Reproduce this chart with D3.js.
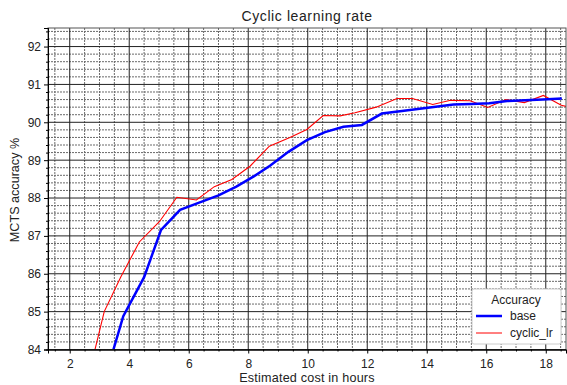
<!DOCTYPE html>
<html>
<head>
<meta charset="utf-8">
<script src="https://cdn.jsdelivr.net/npm/d3@7"></script>
<style>
  body { margin: 0; background: #fff; }
  text { font-family: "Liberation Sans", Arial, sans-serif; fill: #222; }
</style>
</head>
<body>
<div id="chart"></div>
<script>
// Cost in hours and MCTS accuracy
const baseHours = [3.2, 3.8, 4.5, 5.07, 5.71, 6.35, 7.0, 7.6, 8.2, 8.73, 9.35, 9.97, 10.58, 11.2, 11.82, 12.49, 13.1, 13.7, 14.3, 14.9, 15.5, 16.1, 16.7, 17.3, 17.9, 18.54];
const baseAcc   = [83.28, 84.88, 85.91, 87.16, 87.69, 87.88, 88.07, 88.3, 88.58, 88.85, 89.22, 89.53, 89.74, 89.88, 89.93, 90.23, 90.29, 90.35, 90.41, 90.47, 90.48, 90.5, 90.56, 90.58, 90.6, 90.63];

const cyclicHours = [2.58, 3.16, 3.72, 4.34, 5.02, 5.6, 6.26, 6.86, 7.45, 8.06, 8.71, 9.4, 9.97, 10.52, 11.09, 11.59, 12.3, 13.0, 13.52, 14.2, 14.8, 15.46, 16.05, 16.66, 17.28, 17.92, 18.52, 18.9];
const cyclicAcc   = [83.13, 85.0, 85.92, 86.84, 87.38, 88.02, 87.95, 88.3, 88.49, 88.84, 89.37, 89.6, 89.81, 90.18, 90.17, 90.25, 90.4, 90.63, 90.63, 90.47, 90.58, 90.57, 90.39, 90.6, 90.52, 90.71, 90.45, 90.38];

const seriesNames = ["base", "cyclic_lr"];
const xTicks = [2, 4, 6, 8, 10, 12, 14, 16, 18];
const yTicks = [84, 85, 86, 87, 88, 89, 90, 91, 92];

const width = 567, height = 385;
const plotLeft = 48, plotRight = 566, plotTop = 28, plotBottom = 349.5;

const svg = d3.select("#chart")
  .append("svg")
  .attr("width", width)
  .attr("height", height);

const x = d3.scaleLinear().domain([1.27, 18.68]).range([plotLeft, plotRight]);
const y = d3.scaleLinear().domain([84, 92.49]).range([plotBottom, plotTop]);

const color = d3.scaleOrdinal().domain(seriesNames).range(["#0000ff", "#ff0000"]);

// minor grid
const xMinor = d3.range(1.5, 18.6, 0.5).filter(v => Math.abs(v / 2 - Math.round(v / 2)) > 1e-6);
const yMinor = d3.range(84, 92.5, 0.2).filter(v => Math.abs(v - Math.round(v)) > 1e-6);

const grid = svg.append("g");
grid.selectAll(".vminor")
  .data(xMinor)
  .join("line")
  .attr("x1", d => x(d)).attr("x2", d => x(d))
  .attr("y1", plotTop).attr("y2", plotBottom)
  .attr("stroke", "#6a6a6a")
  .attr("stroke-dasharray", "2,1");
grid.selectAll(".hminor")
  .data(yMinor)
  .join("line")
  .attr("x1", plotLeft).attr("x2", plotRight)
  .attr("y1", d => y(d)).attr("y2", d => y(d))
  .attr("stroke", "#6a6a6a")
  .attr("stroke-dasharray", "2,1");

// major grid
grid.selectAll(".vmajor")
  .data(xTicks)
  .join("line")
  .attr("x1", d => x(d)).attr("x2", d => x(d))
  .attr("y1", plotTop).attr("y2", plotBottom)
  .attr("stroke", "#222");
grid.selectAll(".hmajor")
  .data(yTicks)
  .join("line")
  .attr("x1", plotLeft).attr("x2", plotRight)
  .attr("y1", d => y(d)).attr("y2", d => y(d))
  .attr("stroke", "#222");

// lines
svg.append("clipPath").attr("id", "clip")
  .append("rect")
  .attr("x", plotLeft).attr("y", plotTop)
  .attr("width", plotRight - plotLeft).attr("height", plotBottom - plotTop);

const line = d3.line().x(d => x(d[0])).y(d => y(d[1]));
const plot = svg.append("g").attr("clip-path", "url(#clip)");

plot.append("path")
  .datum(cyclicHours.map((h, i) => [h, cyclicAcc[i]]))
  .attr("d", line)
  .attr("fill", "none")
  .attr("stroke", color("cyclic_lr"))
  .attr("stroke-width", 1.1);

plot.append("path")
  .datum(baseHours.map((h, i) => [h, baseAcc[i]]))
  .attr("d", line)
  .attr("fill", "none")
  .attr("stroke", color("base"))
  .attr("stroke-width", 2.5);

// frame
svg.append("rect")
  .attr("x", plotLeft).attr("y", plotTop)
  .attr("width", plotRight - plotLeft).attr("height", plotBottom - plotTop)
  .attr("fill", "none")
  .attr("stroke", "#555");

// axes
const xAxis = svg.append("g")
  .attr("transform", `translate(0,${plotBottom})`)
  .call(d3.axisBottom(x).tickValues(xTicks).tickSize(4).tickPadding(6));
svg.append("g")
  .attr("transform", `translate(0,${plotBottom})`)
  .call(d3.axisBottom(x).tickValues(xMinor).tickSize(2).tickFormat(""));
const yAxis = svg.append("g")
  .attr("transform", `translate(${plotLeft},0)`)
  .call(d3.axisLeft(y).tickValues(yTicks).tickSize(4).tickPadding(3));
svg.append("g")
  .attr("transform", `translate(${plotLeft},0)`)
  .call(d3.axisLeft(y).tickValues(yMinor).tickSize(2).tickFormat(""));

svg.selectAll(".domain").attr("stroke", "#000");
svg.selectAll(".tick line").attr("stroke", "#000");
xAxis.selectAll("text").style("font-size", "12px").style("font-family", "Liberation Sans, Arial, sans-serif").attr("fill", "#222");
yAxis.selectAll("text").style("font-size", "12px").style("font-family", "Liberation Sans, Arial, sans-serif").attr("fill", "#222");

// titles
svg.append("text")
  .attr("x", (plotLeft + plotRight) / 2)
  .attr("y", 21)
  .attr("text-anchor", "middle")
  .style("font-size", "14px")
  .style("letter-spacing", "0.6px")
  .text("Cyclic learning rate");

svg.append("text")
  .attr("x", (plotLeft + plotRight) / 2)
  .attr("y", 382)
  .attr("text-anchor", "middle")
  .style("font-size", "12.6px")
  .style("letter-spacing", "0.2px")
  .text("Estimated cost in hours");

svg.append("text")
  .attr("transform", `translate(19,190) rotate(-90)`)
  .attr("text-anchor", "middle")
  .style("font-size", "12.6px")
  .text("MCTS accuracy %");

// legend
const legend = svg.append("g").attr("transform", "translate(472,289)");
legend.append("rect")
  .attr("width", 89).attr("height", 55)
  .attr("rx", 2)
  .attr("fill", "#fff")
  .attr("stroke", "#ccc");
legend.append("text")
  .attr("x", 44).attr("y", 15)
  .attr("text-anchor", "middle")
  .style("font-size", "12px")
  .text("Accuracy");
seriesNames.forEach((name, i) => {
  const ly = 27 + i * 17;
  legend.append("line")
    .attr("x1", 4).attr("x2", 30)
    .attr("y1", ly).attr("y2", ly)
    .attr("stroke", color(name))
    .attr("stroke-width", name === "base" ? 2.5 : 1);
  legend.append("text")
    .attr("x", 38).attr("y", ly + 4)
    .style("font-size", "12px")
    .text(name);
});
</script>
</body>
</html>
